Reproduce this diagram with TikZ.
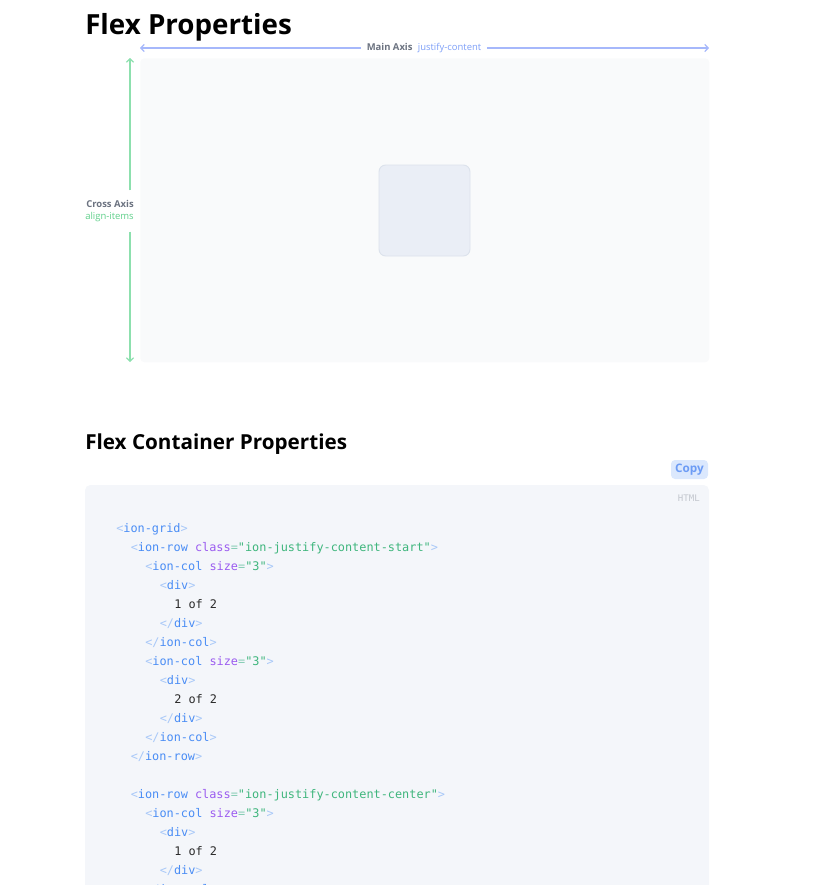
\documentclass[tikz,border=0pt]{standalone}
\usepackage{fontspec}
\setmainfont{Open Sans}
\setmonofont{DejaVu Sans Mono}
\usetikzlibrary{arrows.meta}
\definecolor{cpanel}{HTML}{F9FAFB}
\definecolor{citem}{HTML}{EAEEF6}
\definecolor{citemb}{HTML}{DCE2EC}
\definecolor{cgraylbl}{HTML}{6B7280}
\definecolor{cbluelbl}{HTML}{7D9FF7}
\definecolor{cblueline}{HTML}{A6B8FB}
\definecolor{cgreenline}{HTML}{8DE0AE}
\definecolor{cgreenlbl}{HTML}{5FCF8A}
\definecolor{ccode}{HTML}{F4F6FA}
\definecolor{ccopybg}{HTML}{DBE8FD}
\definecolor{ccopytx}{HTML}{6D9CF5}
\definecolor{chtml}{HTML}{C3C7CE}
\definecolor{cbr}{HTML}{A8C8F8}
\definecolor{ctag}{HTML}{4A8DF5}
\definecolor{cattr}{HTML}{9B5CF0}
\definecolor{ceq}{HTML}{86CDB4}
\definecolor{cstr}{HTML}{3FB67D}
\definecolor{ctxt}{HTML}{2B2B2B}
\newcommand\cLt{\textcolor{cbr}{<}}
\newcommand\cLs{\textcolor{cbr}{</}}
\newcommand\cGt{\textcolor{cbr}{>}}
\newcommand\cT[1]{\textcolor{ctag}{#1}}
\newcommand\cA[1]{\textcolor{cattr}{#1}}
\newcommand\cE{\textcolor{ceq}{=}}
\newcommand\cS[1]{\textcolor{cstr}{#1}}
\begin{document}
\begin{tikzpicture}[x=0.75pt,y=-0.75pt,
  codeln/.style={anchor=base west,inner sep=0pt,font=\ttfamily\fontsize{8.9}{11}\selectfont,text=ctxt},
  axisarrow/.style={line width=0.9pt,-{Straight Barb[length=2.6pt,width=5.5pt]}},
  lbl/.style={inner sep=0pt,font=\fontsize{7.1}{9}\selectfont}]
\useasboundingbox (0,0) rectangle (831,885);
\clip (0,0) rectangle (831,885);
% title
\node[anchor=base west,inner sep=0pt,font=\bfseries\fontsize{20.8}{25}\selectfont] (title) at (85,34) {Flex Properties};
% panel
\node[draw=none,fill=cpanel,rounded corners=3pt,minimum width=569*0.75pt,minimum height=304*0.75pt,anchor=north west,inner sep=0pt] (panel) at (140,58) {};
\node[draw=citemb,line width=0.7pt,fill=citem,rounded corners=5pt,minimum width=91*0.75pt,minimum height=91*0.75pt,inner sep=0pt] (item) at (424.5,210.5) {};
% main axis
\coordinate (mleft) at (140,48);
\coordinate (mright) at (709,48);
\node[lbl,inner xsep=4pt] (mainlbl) at (424,48) {\textcolor{cgraylbl}{\bfseries Main Axis}\hspace{4pt}\textcolor{cbluelbl}{justify-content}};
\draw[axisarrow,cblueline] (mainlbl.west) -- (mleft);
\draw[axisarrow,cblueline] (mainlbl.east) -- (mright);
% cross axis
\coordinate (ctop) at (130,58);
\coordinate (cbot) at (130,362);
\node[lbl,anchor=east,align=right,inner ysep=7pt,font=\fontsize{7.1}{9.6}\selectfont] (crosslbl) at (134,211) {\textcolor{cgraylbl}{\bfseries Cross Axis}\\\textcolor{cgreenlbl}{align-items}};
\draw[axisarrow,cgreenline] (ctop |- crosslbl.north) -- (ctop);
\draw[axisarrow,cgreenline] (cbot |- crosslbl.south) -- (cbot);
% section title
\node[anchor=base west,inner sep=0pt,font=\bfseries\fontsize{15.5}{19}\selectfont] (sub) at (85,449) {Flex Container Properties};
% copy button
\node[fill=ccopybg,rounded corners=3pt,minimum width=37*0.75pt,minimum height=19*0.75pt,inner sep=0pt,text=ccopytx,font=\bfseries\fontsize{8.8}{10}\selectfont] (copy) at (689.5,469.5) {Copy};
% code block
\fill[ccode,rounded corners=4pt] (85,485) rectangle (709,930);
\node[anchor=base east,inner sep=0pt,text=chtml,font=\ttfamily\fontsize{6.8}{8}\selectfont] (html) at (700,501) {HTML};
% code lines
\node[codeln] (c1) at (116,532.5) {\cLt\cT{ion-grid}\cGt};
\node[codeln] (c2) at (130.5,551.5) {\cLt\cT{ion-row} \cA{class}\cE\cS{"ion-justify-content-start"}\cGt};
\node[codeln] (c3) at (145,570.5) {\cLt\cT{ion-col} \cA{size}\cE\cS{"3"}\cGt};
\node[codeln] (c4) at (159.5,589.5) {\cLt\cT{div}\cGt};
\node[codeln] (c5) at (174,608.5) {1 of 2};
\node[codeln] (c6) at (159.5,627.5) {\cLs\cT{div}\cGt};
\node[codeln] (c7) at (145,646.5) {\cLs\cT{ion-col}\cGt};
\node[codeln] (c8) at (145,665.5) {\cLt\cT{ion-col} \cA{size}\cE\cS{"3"}\cGt};
\node[codeln] (c9) at (159.5,684.5) {\cLt\cT{div}\cGt};
\node[codeln] (c10) at (174,703.5) {2 of 2};
\node[codeln] (c11) at (159.5,722.5) {\cLs\cT{div}\cGt};
\node[codeln] (c12) at (145,741.5) {\cLs\cT{ion-col}\cGt};
\node[codeln] (c13) at (130.5,760.5) {\cLs\cT{ion-row}\cGt};
\node[codeln] (c14) at (130.5,798.5) {\cLt\cT{ion-row} \cA{class}\cE\cS{"ion-justify-content-center"}\cGt};
\node[codeln] (c15) at (145,817.5) {\cLt\cT{ion-col} \cA{size}\cE\cS{"3"}\cGt};
\node[codeln] (c16) at (159.5,836.5) {\cLt\cT{div}\cGt};
\node[codeln] (c17) at (174,855.5) {1 of 2};
\node[codeln] (c18) at (159.5,874.5) {\cLs\cT{div}\cGt};
\node[codeln] (c19) at (145,893.5) {\cLs\cT{ion-col}\cGt};
\end{tikzpicture}
\end{document}
